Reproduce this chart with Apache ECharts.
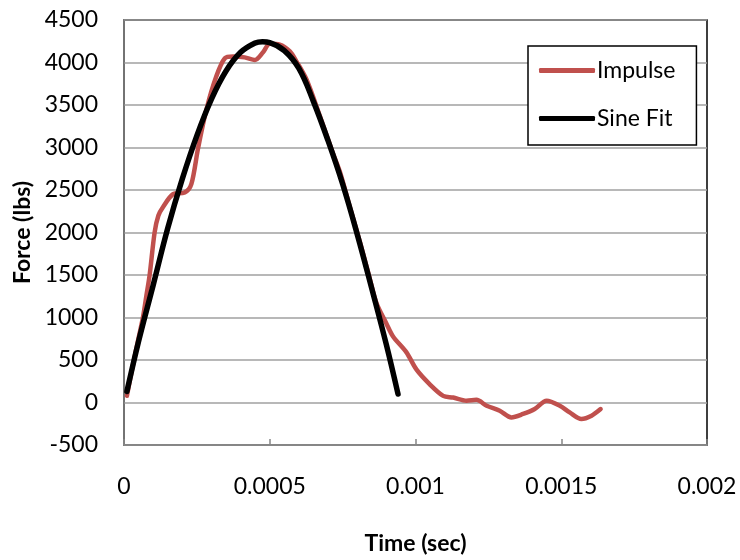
<!DOCTYPE html>
<html>
<head>
<meta charset="utf-8">
<script src="https://cdn.jsdelivr.net/npm/echarts@6/dist/echarts.min.js"></script>
<style>
  html, body { margin: 0; padding: 0; background: #fff; }
  #case { width: 740px; height: 560px; }
</style>
</head>
<body>
<div id="case"></div>
<script>
// measured impulse (time in sec, force in lbs)
var impulseTime = [
  0.00001, 0.00003, 0.00005, 0.000065, 0.000077, 0.000088, 0.000105, 0.000118,
  0.000134, 0.000168, 0.000208, 0.000231, 0.000254, 0.000283, 0.000317, 0.000346,
  0.000374, 0.000414, 0.000449, 0.000477, 0.0005, 0.000534, 0.000569, 0.000592,
  0.000626, 0.000672, 0.000717, 0.00074, 0.000775, 0.00081, 0.00084, 0.000866,
  0.0009, 0.000923, 0.000969, 0.001003, 0.001049, 0.001095, 0.001129, 0.001175,
  0.001209, 0.001244, 0.001289, 0.001329, 0.001369, 0.001409, 0.00145, 0.001495,
  0.001529, 0.001569, 0.001604, 0.001635
];
var impulseForce = [
  80, 430, 760, 1000, 1260, 1500, 2000, 2200,
  2300, 2450, 2470, 2570, 2990, 3450, 3840, 4050,
  4070, 4060, 4030, 4120, 4220, 4210, 4130, 4010,
  3800, 3370, 2930, 2720, 2300, 1880, 1500, 1170,
  930, 777, 590, 389, 214, 78, 58, 20,
  31, -38, -97, -175, -135, -77, 20, -38,
  -117, -194, -155, -77
];

// sine fit
var sineTime = [
  0.00001, 0.00005, 0.0001, 0.00015, 0.0002, 0.00025, 0.0003, 0.00035,
  0.0004, 0.00045, 0.000475, 0.0005, 0.00055, 0.0006, 0.00065, 0.0007,
  0.00075, 0.0008, 0.00085, 0.0009, 0.00094
];
var sineForce = [
  130, 720, 1380, 2050, 2630, 3140, 3570, 3900,
  4120, 4230, 4245, 4235, 4140, 3930, 3540, 3080,
  2570, 1980, 1340, 680, 100
];

function pairs(xs, ys) {
  return xs.map(function (x, i) { return [x, ys[i]]; });
}

var font = "Lato, 'Open Sans', sans-serif";
var myChart = echarts.init(document.getElementById("case"));
myChart.setOption({
  animation: false,
  textStyle: { fontFamily: font },
  grid: {
    left: 124,
    right: 33,
    top: 20,
    bottom: 110,
    show: true,
    borderColor: "#000",
    borderWidth: 1.5,
    backgroundColor: "#fff",
  },
  legend: {
    orient: "vertical",
    left: 528,
    top: 46,
    backgroundColor: "#fff",
    borderColor: "#000",
    borderWidth: 1.5,
    borderRadius: 0,
    padding: [13, 21, 15, 11],
    icon: "roundRect",
    itemWidth: 56,
    itemHeight: 5,
    itemGap: 25,
    textStyle: { color: "#000", fontSize: 23, fontFamily: font, padding: [0, 0, 0, -3] },
    data: ["Impulse", "Sine Fit"],
  },
  xAxis: {
    type: "value",
    min: 0,
    max: 0.002,
    interval: 0.0005,
    name: "Time (sec)",
    nameLocation: "middle",
    nameGap: 87,
    nameTextStyle: { color: "#000", fontSize: 23, fontWeight: "bold", fontFamily: font },
    axisLine: { onZero: false, lineStyle: { color: "#868686", width: 1.5 } },
    axisTick: { show: true, inside: true, length: 6, lineStyle: { color: "#868686", width: 1.5 } },
    axisLabel: {
      color: "#000",
      fontSize: 23,
      margin: 30,
      formatter: function (v) { return String(+v.toFixed(4)); },
    },
    splitLine: { show: false },
  },
  yAxis: {
    type: "value",
    min: -500,
    max: 4500,
    interval: 500,
    name: "Force (lbs)",
    nameLocation: "middle",
    nameGap: 85,
    nameTextStyle: { color: "#000", fontSize: 23, fontWeight: "bold", fontFamily: font },
    axisLine: { show: true, onZero: false, lineStyle: { color: "#868686", width: 1.5 } },
    axisTick: { show: false },
    axisLabel: {
      color: "#000",
      fontSize: 23,
      margin: 26,
      formatter: function (v) { return String(v); },
    },
    splitLine: { show: true, lineStyle: { color: "#a0a0a0", width: 1.5 } },
  },
  series: [
    {
      name: "Impulse",
      type: "line",
      smooth: 0.3,
      symbol: "none",
      lineStyle: { color: "#c0504d", width: 4.5, cap: "round", join: "round" },
      itemStyle: { color: "#c0504d" },
      data: pairs(impulseTime, impulseForce),
    },
    {
      name: "Sine Fit",
      type: "line",
      smooth: 0.4,
      symbol: "none",
      lineStyle: { color: "#000", width: 5.5, cap: "round", join: "round" },
      itemStyle: { color: "#000" },
      data: pairs(sineTime, sineForce),
    },
  ],
});
</script>
</body>
</html>
